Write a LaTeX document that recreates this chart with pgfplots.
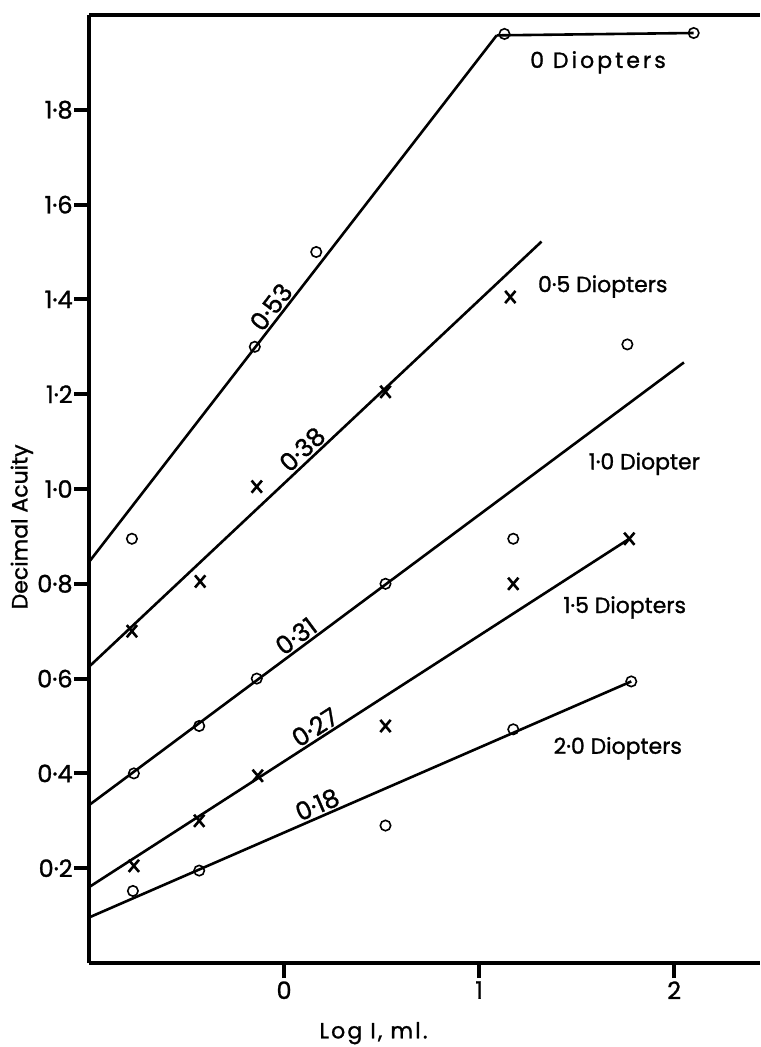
\documentclass[border=0pt]{standalone}
\usepackage{fontspec}
\setmainfont{Poppins}[FakeBold=1.2]
\newfontfamily\spaced{Poppins}[FakeBold=1.2, LetterSpace=10]
\newfontfamily\wspaced{Poppins}[FakeBold=1.2, LetterSpace=14]
\usepackage{pgfplots}
\pgfplotsset{compat=1.18}
\tikzset{slopelab/.style={pos=#1, sloped, above, inner sep=0.8pt, font=\fontsize{12.5}{13}\selectfont}}
\begin{document}
\begin{tikzpicture}
\begin{axis}[
  scale only axis,
  width=335.5pt, height=474pt,
  xmin=-1, xmax=2.44, ymin=0, ymax=2.0,
  axis x line*=box, axis y line*=left,
  axis line style={line width=2.4pt},
  xtick={0,1,2}, xticklabels={0,1,2},
  ytick={0.2,0.4,0.6,0.8,1.0,1.2,1.4,1.6,1.8},
  yticklabels={0·2,0·4,0·6,0·8,1·0,1·2,1·4,1·6,1·8},
  xtick pos=left, ytick pos=left,
  tick align=outside,
  major tick length=7.5pt,
  every tick/.style={black, line width=2pt},
  tick label style={font=\fontsize{12}{13}\selectfont},
  yticklabel style={inner sep=0.5pt},
  xticklabel style={inner sep=1.5pt},
  xlabel={Log I, ml.},
  ylabel={Decimal Acuity},
  every axis x label/.style={at={(axis description cs:0.424,0)}, anchor=north, yshift=-26pt, font=\spaced\fontsize{11}{12}\selectfont},
  every axis y label/.style={at={(axis description cs:-0.1,0.46)}, rotate=90, anchor=center, font=\fontsize{11}{12}\selectfont},
  clip=false,
]
% fitted lines
\addplot[black, line width=1.3pt, no marks] coordinates {(-1,0.846) (1.09,1.957)} node[slopelab=0.47]{0·53};
\addplot[black, line width=1.3pt, no marks] coordinates {(1.09,1.957) (2.10,1.962)};
\addplot[black, line width=1.3pt, no marks] coordinates {(-1,0.625) (1.32,1.522)} node[slopelab=0.49]{0·38};
\addplot[black, line width=1.3pt, no marks] coordinates {(-1,0.333) (2.05,1.267)} node[slopelab=0.36]{0·31};
\addplot[black, line width=1.3pt, no marks] coordinates {(-1,0.160) (1.77,0.895)} node[slopelab=0.43]{0·27};
\addplot[black, line width=1.3pt, no marks] coordinates {(-1,0.096) (1.78,0.594)} node[slopelab=0.43]{0·18};
% data points
% 0 D (circles)
\addplot[only marks, mark=o, mark size=2.6pt, mark options={line width=0.8pt}] coordinates {(-0.78,0.895) (-0.15,1.30) (0.165,1.50) (1.13,1.96) (2.10,1.962)};
% 0.5 D (crosses)
\addplot[only marks, mark=x, mark size=4.3pt, mark options={line width=1.3pt, xscale=0.85}] coordinates {(-0.78,0.70) (-0.43,0.805) (-0.14,1.005) (0.52,1.205) (1.16,1.405)};
% 1.0 D (circles)
\addplot[only marks, mark=o, mark size=2.6pt, mark options={line width=0.8pt}] coordinates {(-0.77,0.40) (-0.435,0.50) (-0.14,0.60) (0.52,0.80) (1.175,0.895) (1.76,1.305)};
% 1.5 D (crosses)
\addplot[only marks, mark=x, mark size=4.3pt, mark options={line width=1.3pt, xscale=0.85}] coordinates {(-0.77,0.205) (-0.435,0.30) (-0.135,0.395) (0.52,0.50) (1.175,0.80) (1.77,0.895)};
% 2.0 D (circles)
\addplot[only marks, mark=o, mark size=2.6pt, mark options={line width=0.8pt}] coordinates {(-0.775,0.152) (-0.435,0.195) (0.52,0.29) (1.175,0.493) (1.78,0.594)};
% curve labels
\node[anchor=west, inner sep=0pt, font=\wspaced\fontsize{11}{12}\selectfont] at (axis cs:1.26,1.90) {0 Diopters};
\node[anchor=west, inner sep=0pt, font=\fontsize{11}{12}\selectfont] at (axis cs:1.30,1.427) {0·5 Diopters};
\node[anchor=west, inner sep=0pt, font=\fontsize{11}{12}\selectfont] at (axis cs:1.56,1.053) {1·0 Diopter};
\node[anchor=west, inner sep=0pt, font=\fontsize{11}{12}\selectfont] at (axis cs:1.43,0.75) {1·5 Diopters};
\node[anchor=west, inner sep=0pt, font=\fontsize{11}{12}\selectfont] at (axis cs:1.38,0.453) {2·0 Diopters};
\end{axis}
\pgfresetboundingbox
\path (current axis.south west) ++(-44.5pt,-42pt) coordinate (bbA);
\path (current axis.north east) ++(0pt,7.5pt) coordinate (bbB);
\path[use as bounding box] (bbA) rectangle (bbB);
\end{tikzpicture}
\end{document}
